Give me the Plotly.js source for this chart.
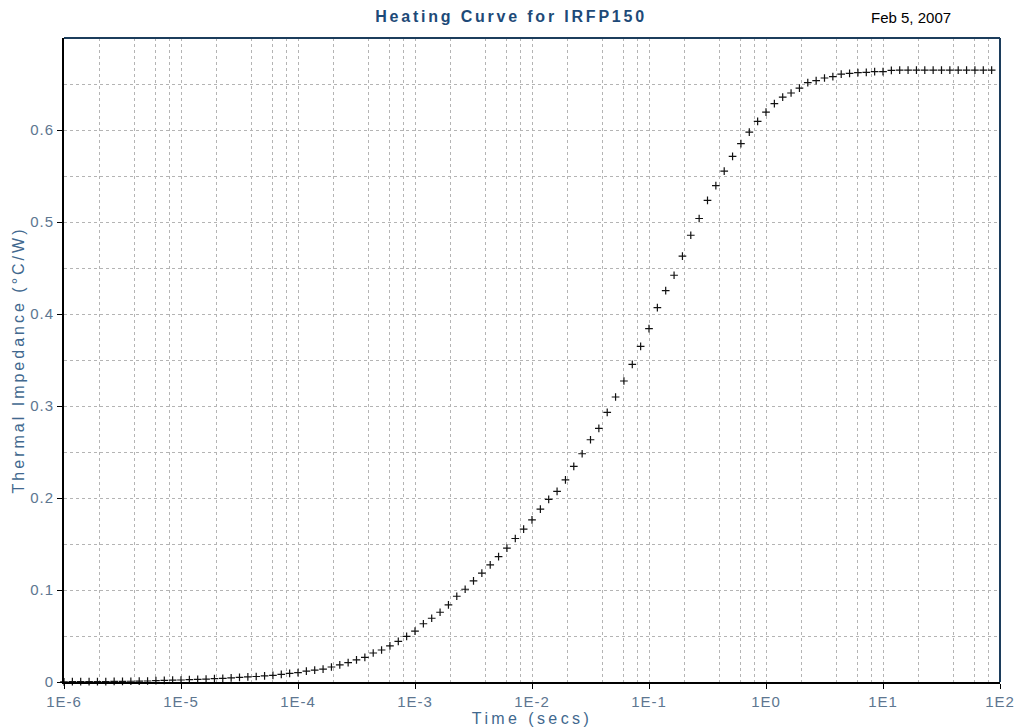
<!DOCTYPE html>
<html>
<head>
<meta charset="utf-8">
<script src="https://cdn.plot.ly/plotly-3.0.1.min.js"></script>
<style>
  html, body { margin: 0; padding: 0; background: #fff; }
  #chart { width: 1016px; height: 728px; }
  .xtick text, .ytick text { letter-spacing: 1px; }
  .xtitle, .ytitle { letter-spacing: 3px; }
  .xtitle { letter-spacing: 3.4px; }
  .gtitle { letter-spacing: 2.8px; }
</style>
</head>
<body>
<div id="chart"></div>
<script>
// Time (s) of each sample
const times = [
  1.000e-6,1.179e-6,1.389e-6,1.638e-6,1.931e-6,2.276e-6,2.683e-6,3.162e-6,3.728e-6,4.394e-6,5.179e-6,6.105e-6,7.197e-6,8.483e-6,
  1.000e-5,1.179e-5,1.389e-5,1.638e-5,1.931e-5,2.276e-5,2.683e-5,3.162e-5,3.728e-5,4.394e-5,5.179e-5,6.105e-5,7.197e-5,8.483e-5,
  1.000e-4,1.179e-4,1.389e-4,1.638e-4,1.931e-4,2.276e-4,2.683e-4,3.162e-4,3.728e-4,4.394e-4,5.179e-4,6.105e-4,7.197e-4,8.483e-4,
  1.000e-3,1.179e-3,1.389e-3,1.638e-3,1.931e-3,2.276e-3,2.683e-3,3.162e-3,3.728e-3,4.394e-3,5.179e-3,6.105e-3,7.197e-3,8.483e-3,
  1.000e-2,1.179e-2,1.389e-2,1.638e-2,1.931e-2,2.276e-2,2.683e-2,3.162e-2,3.728e-2,4.394e-2,5.179e-2,6.105e-2,7.197e-2,8.483e-2,
  1.000e-1,1.179e-1,1.389e-1,1.638e-1,1.931e-1,2.276e-1,2.683e-1,3.162e-1,3.728e-1,4.394e-1,5.179e-1,6.105e-1,7.197e-1,8.483e-1,
  1.000e0,1.179e0,1.389e0,1.638e0,1.931e0,2.276e0,2.683e0,3.162e0,3.728e0,4.394e0,5.179e0,6.105e0,7.197e0,8.483e0,
  1.000e1,1.179e1,1.389e1,1.638e1,1.931e1,2.276e1,2.683e1,3.162e1,3.728e1,4.394e1,5.179e1,6.105e1,7.197e1,8.483e1
];
// Thermal impedance (°C/W)
const impedance = [
  0.0002,0.0003,0.0003,0.0004,0.0005,0.0005,0.0006,0.0007,0.0008,0.0009,0.0011,0.0016,0.0018,0.0020,
  0.0022,0.0026,0.0029,0.0032,0.0036,0.0040,0.0045,0.0050,0.0055,0.0060,0.0066,0.0073,0.0082,0.0093,
  0.0102,0.0118,0.0128,0.0141,0.0163,0.0187,0.0210,0.0241,0.0267,0.0315,0.0348,0.0393,0.0441,0.0497,
  0.0553,0.0633,0.0693,0.0758,0.0838,0.0932,0.1008,0.1099,0.1183,0.1273,0.1363,0.1455,0.1560,0.1661,
  0.1763,0.1879,0.1986,0.2071,0.2198,0.2343,0.2481,0.2633,0.2756,0.2930,0.3098,0.3272,0.3453,0.3649,
  0.3841,0.4070,0.4255,0.4421,0.4628,0.4856,0.5038,0.5234,0.5395,0.5553,0.5713,0.5851,0.5977,0.6094,
  0.6195,0.6286,0.6358,0.6402,0.6456,0.6514,0.6536,0.6565,0.6580,0.6608,0.6616,0.6623,0.6627,0.6634,
  0.6634,0.6649,0.6650,0.6650,0.6650,0.6650,0.6650,0.6650,0.6650,0.6650,0.6650,0.6650,0.6650,0.6650
];
// X axis decade ticks
const decadeVals = [1e-6,1e-5,1e-4,1e-3,1e-2,1e-1,1e0,1e1,1e2];
const decadeLabels = ["1E-6","1E-5","1E-4","1E-3","1E-2","1E-1","1E0","1E1","1E2"];
const minorMantissas = [2,4,6,8];
// Y axis ticks
const yTickVals = [0,0.1,0.2,0.3,0.4,0.5,0.6];
const yTickLabels = ["0","0.1","0.2","0.3","0.4","0.5","0.6"];

const titleText = "Heating Curve for IRFP150";
const dateText = "Feb 5, 2007";
const xTitle = "Time (secs)";
const yTitle = "Thermal Impedance (°C/W)";

const minorVals = [];
decadeVals.slice(0, -1).forEach(d => minorMantissas.forEach(m => minorVals.push(m * d)));

const gridStyle = { gridcolor: '#b4b4b4', griddash: '3px,3px', gridwidth: 1 };
const tickFont = { family: 'Liberation Sans, Arial, sans-serif', size: 15, color: '#5d7690' };
const axisTitleFont = { family: 'Liberation Sans, Arial, sans-serif', size: 16, color: '#41688e' };

const trace = {
  x: times, y: impedance, type: 'scatter', mode: 'markers',
  marker: { symbol: 'cross-thin', size: 5.5, color: '#111', line: { color: '#111', width: 1.2 } },
  cliponaxis: false, hoverinfo: 'x+y'
};

const layout = {
  width: 1016, height: 728,
  paper_bgcolor: '#fff', plot_bgcolor: '#fff',
  margin: { l: 64, r: 16, t: 38, b: 46 },
  showlegend: false,
  title: {
    text: titleText, x: 0.503, xanchor: 'center', y: 0.977, yanchor: 'middle', xref: 'container', yref: 'container',
    font: { family: 'Liberation Sans, Arial, sans-serif', size: 16, color: '#1d4a78', weight: 'bold' }
  },
  xaxis: {
    type: 'log', range: [-6, 2], autorange: false,
    tickmode: 'array', tickvals: decadeVals, ticktext: decadeLabels,
    ticks: 'outside', ticklen: 5, tickcolor: '#000', tickwidth: 1,
    tickfont: tickFont,
    showline: true, linecolor: '#000', linewidth: 2,
    showgrid: true, ...gridStyle,
    minor: { tickmode: 'array', tickvals: minorVals, showgrid: true, ticks: '', ...gridStyle },
    zeroline: false,
    title: { text: xTitle, font: axisTitleFont, standoff: 2 },
    automargin: false
  },
  yaxis: {
    range: [0, 0.7], autorange: false,
    tickmode: 'array', tickvals: yTickVals, ticktext: yTickLabels,
    ticks: 'outside', ticklen: 5, tickcolor: '#000', tickwidth: 1,
    tickfont: tickFont,
    showline: true, linecolor: '#000', linewidth: 2,
    showgrid: true, ...gridStyle,
    minor: { dtick: 0.05, tick0: 0, showgrid: true, ticks: '', ...gridStyle },
    zeroline: false,
    title: { text: yTitle, font: axisTitleFont, standoff: 2 },
    automargin: false
  },
  shapes: [
    { type: 'line', xref: 'paper', yref: 'paper', x0: 0, x1: 1, y0: 1, y1: 1, line: { color: '#1c3d5c', width: 2 } },
    { type: 'line', xref: 'paper', yref: 'paper', x0: 1, x1: 1, y0: 0, y1: 1, line: { color: '#1c3d5c', width: 2 } }
  ],
  annotations: [
    { text: dateText, xref: 'paper', yref: 'paper', x: 0.905, y: 1.0326, xanchor: 'center', yanchor: 'middle',
      showarrow: false, font: { family: 'Liberation Sans, Arial, sans-serif', size: 15, color: '#000' } }
  ]
};

Plotly.newPlot('chart', [trace], layout, { displayModeBar: false, staticPlot: true });
</script>
</body>
</html>
